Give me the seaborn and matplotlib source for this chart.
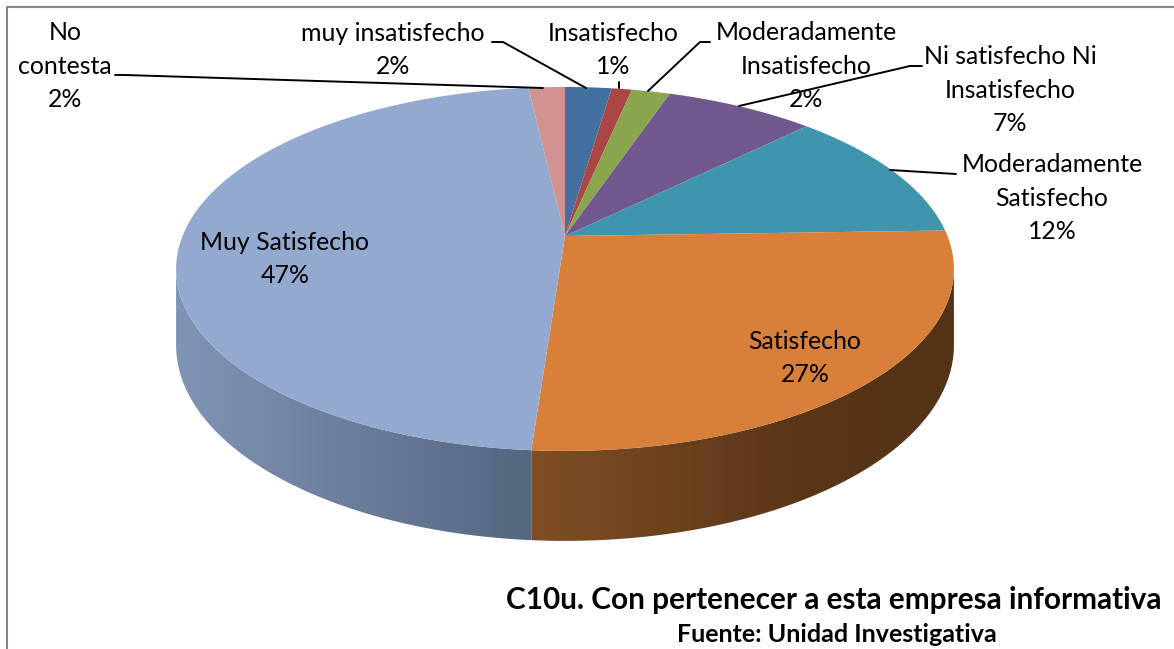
import numpy as np
import matplotlib
matplotlib.use('Agg')
import matplotlib.pyplot as plt
from matplotlib.patches import Polygon
from matplotlib.path import Path
from matplotlib.transforms import Affine2D, Transform
import seaborn as sns

names = ['muy insatisfecho', 'Insatisfecho', 'Moderadamente\nInsatisfecho', 'Ni satisfecho Ni\nInsatisfecho',
         'Moderadamente\nSatisfecho', 'Satisfecho', 'Muy Satisfecho', 'No\ncontesta']
values = [2.3, 1.0, 1.9, 7.4, 11.9, 26.65, 47.05, 1.8]
top_colors = ['#44709f', '#aa4643', '#89a54e', '#71588f', '#4095ae', '#d8803a', '#93a9cf', '#d19392']
title = 'C10u. Con pertenecer a esta empresa informativa'
source = 'Fuente: Unidad Investigativa'

# pie tilt, all in pixels of the 1174x649 picture
CX, CY = 565, 236
RX, RY, K = 382.5, 176, 0.181
DEPTH = 73.7


def tilt(xy):
    xy = np.asarray(xy, dtype=float)
    w = 1 + K * xy[:, 1]
    return np.column_stack([CX + RX * xy[:, 0] / w, CY - RY * xy[:, 1] / w])


class Tilt(Transform):
    input_dims = 2
    output_dims = 2

    def transform_non_affine(self, values):
        return tilt(values)

    def transform_path_non_affine(self, path):
        # flatten the wedge curves first, at a big scale so they stay smooth
        polys = path.to_polygons(Affine2D().scale(1000))
        return Path(tilt(np.vstack(polys) / 1000))


def ring(share, lower=False):
    ang = np.pi / 2 - 2 * np.pi * share
    xy = tilt(np.column_stack([np.cos(ang), np.sin(ang)]))
    if lower:
        xy[:, 1] += DEPTH / (1 + K * np.sin(ang))
    return xy


def wall(start, end, xp, shades):
    # horizontal gradient, clipped to the side of the slice
    # the side only shows from where the ellipse is widest
    widest = 0.25 + np.arcsin(K) / (2 * np.pi)
    shares = np.linspace(max(start, widest), min(end, 1 - widest), 300)
    outline = np.vstack([ring(shares), ring(shares, lower=True)[::-1]])
    x0, x1 = outline[:, 0].min(), outline[:, 0].max()
    xs = np.linspace(x0, x1, 512)
    rgb = np.array([matplotlib.colors.to_rgb(c) for c in shades])
    img = np.stack([np.interp(xs, xp, rgb[:, c]) for c in range(3)], axis=-1)[None, :, :]
    im = ax.imshow(img, extent=(x0, x1, outline[:, 1].max(), outline[:, 1].min()), aspect='auto',
                   interpolation='bilinear', zorder=1)
    im.set_clip_path(Polygon(outline, closed=True, transform=ax.transData))


sns.set_theme(style='white')
plt.rcParams['font.family'] = ['Lato', 'DejaVu Sans']

fig, ax = plt.subplots(figsize=(11.74, 6.49), dpi=100)
fig.subplots_adjust(0, 0, 1, 1)

wedges, _ = ax.pie(values, colors=sns.color_palette(top_colors), startangle=90, counterclock=False,
                   wedgeprops={'linewidth': 0})
for w in wedges:
    w.set_transform(Tilt() + ax.transData)
    w.set_zorder(3)

ends = np.cumsum(values) / np.sum(values)
# side of the pie: only orange and light blue show
wall(ends[4], ends[5], [530, 800, 954], ['#7f4f24', '#5a3617', '#553316'])
wall(ends[5], ends[6], [176, 530], ['#8094b6', '#55677f'])

ax.set_aspect('auto')
ax.set_xlim(0, 1174)
ax.set_ylim(649, 0)
ax.axis('off')

# outer frame
ax.plot([7, 7, 1174], [649, 7, 7], color='#868686', lw=1.5, zorder=2)

labels = [f'{n}\n{v:.0f}%' for n, v in zip(names, values)]
label_pos = [(393, 50), (613, 50), (806, 66), (1010, 90), (1052, 198), (805, 358), (285, 259), (65, 66)]
for txt, (x, y) in zip(labels, label_pos):
    ax.text(x, y, txt, ha='center', va='center', fontsize=17.9, color='black', linespacing=1.54, zorder=6)

# leader lines
leaders = [
    [(492, 42), (503, 42), (586, 88)],
    [(619, 82), (619, 88)],
    [(710, 42), (700, 42), (648, 91)],
    [(922, 66), (910, 66), (739, 106)],
    [(956, 174), (890, 170)],
    [(115, 75), (125, 75), (543, 88)],
]
for pts in leaders:
    xs, ys = zip(*pts)
    ax.plot(xs, ys, color='black', lw=1.4, zorder=5)

ax.text(1161, 600, title, ha='right', va='center', fontsize=21.4, fontweight='bold', color='black', zorder=6)
ax.text(837, 635, source, ha='center', va='center', fontsize=18, fontweight='bold', color='black', zorder=6)

fig.savefig('out.png', dpi=100)
